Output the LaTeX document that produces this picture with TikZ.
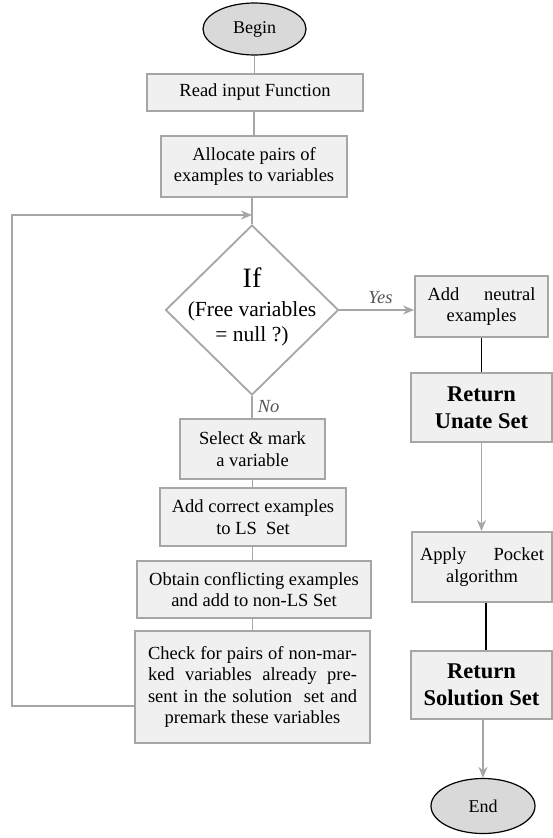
\documentclass[tikz,border=0pt]{standalone}
\usepackage{fontspec}
\setmainfont{Liberation Serif}
\usetikzlibrary{shapes.geometric,arrows.meta}
\definecolor{boxfill}{HTML}{F0F0F0}
\definecolor{boxline}{HTML}{A6A6A6}
\definecolor{ovalfill}{HTML}{D9D9D9}
\definecolor{labelgray}{HTML}{555555}
\tikzset{
  procbox/.style={rectangle, draw=boxline, fill=boxfill, line width=1.8pt, inner sep=0pt, align=center,
    font=\fontsize{18.5}{21.5}\selectfont},
  boldbox/.style={procbox, font=\bfseries\fontsize{22.5}{27}\selectfont},
  terminal/.style={ellipse, draw=black, fill=ovalfill, line width=1.2pt, inner sep=0pt,
    font=\fontsize{18}{21}\selectfont},
  graylink/.style={draw=boxline, line width=1.8pt},
  blacklink/.style={draw=black, line width=1.8pt},
  grayarrow/.style={graylink, -{Stealth[length=11pt,width=9pt,inset=3.5pt]}},
  branchlabel/.style={font=\itshape\fontsize{18.5}{21}\selectfont, text=labelgray, inner sep=0pt}
}
\begin{document}
\begin{tikzpicture}[x=1pt,y=-1pt]
\useasboundingbox (0,0) rectangle (553,838);
% left / main column
\node[terminal, minimum width=103pt, minimum height=52pt] (begin) at (254.5,29) {Begin};
\node[procbox, minimum width=216pt, minimum height=37pt] (read) at (255,92.5) {Read input Function};
\node[procbox, minimum width=186pt, minimum height=61pt] (alloc) at (254,166.5) {Allocate pairs of\\examples to variables};
\node[diamond, draw=boxline, fill=white, line width=1.8pt, minimum width=173pt, minimum height=170pt, inner sep=0pt] (dec) at (252,310) {};
\node[align=center, inner sep=0pt, font=\fontsize{21.5}{25}\selectfont] (dectext) at (252,307)
  {{\fontsize{28}{30}\selectfont If}\\[4pt](Free variables\\= null ?)};
\node[procbox, minimum width=145pt, minimum height=60pt] (select) at (252.5,449) {Select \& mark\\a variable};
\node[procbox, minimum width=186pt, minimum height=58pt] (addc) at (253,517) {Add correct examples\\to LS\ \ Set};
\node[procbox, minimum width=234pt, minimum height=57pt] (obtain) at (254,589.5) {Obtain conflicting examples\\and add to non-LS Set};
\node[procbox, minimum width=235pt, minimum height=112pt] (check) at (252.5,687)
  {\makebox[209pt][s]{Check for pairs of non-mar-}\\\makebox[209pt][s]{ked variables already pre-}\\\makebox[209pt][s]{sent in the solution\ \ set and}\\premark these variables};
% right column
\node[procbox, minimum width=133pt, minimum height=61pt] (neutral) at (481.5,306.5) {\makebox[108pt][s]{Add neutral}\\examples};
\node[boldbox, minimum width=141pt, minimum height=69pt] (unate) at (481.5,407.5) {Return\\Unate Set};
\node[procbox, minimum width=140pt, minimum height=70pt] (pocket) at (482,567) {\makebox[124pt][s]{Apply Pocket}\\algorithm};
\node[boldbox, minimum width=141pt, minimum height=68pt] (solution) at (481.5,685) {Return\\Solution Set};
\node[terminal, minimum width=104pt, minimum height=55pt] (endn) at (483,806) {End};
% loop corner points
\coordinate (lb) at (12,706);
\coordinate (lt) at (12,215);
% connectors
\draw[graylink] (begin.south) -- (begin.south |- read.north);
\draw[graylink] (read.south -| alloc.north) -- (alloc.north);
\draw[graylink] (alloc.south -| dec.north) -- (dec.north);
\draw[graylink] (dec.south) -- (dec.south |- select.north)
  node[branchlabel, pos=0.5, right=5pt] (nolabel) {No};
\draw[graylink] (select.south) -- (select.south |- addc.north);
\draw[graylink] (addc.south -| select.south) -- (select.south |- obtain.north);
\draw[graylink] (obtain.south -| select.south) -- (select.south |- check.north);
\draw[grayarrow] (check.west |- lb) -- (lb) -- (lt) -- (lt -| dec.north);
\draw[grayarrow] (dec.east) -- (dec.east -| neutral.west)
  node[branchlabel, pos=0.55, above=5pt] (yeslabel) {Yes};
\draw[blacklink] (neutral.south) -- (neutral.south |- unate.north);
\draw[grayarrow] (unate.south) -- (unate.south |- pocket.north);
\draw[blacklink] ([xshift=4pt]pocket.south) -- ([xshift=4pt]pocket.south |- solution.north);
\draw[grayarrow] (solution.south -| endn.north) -- (endn.north);
\end{tikzpicture}
\end{document}
